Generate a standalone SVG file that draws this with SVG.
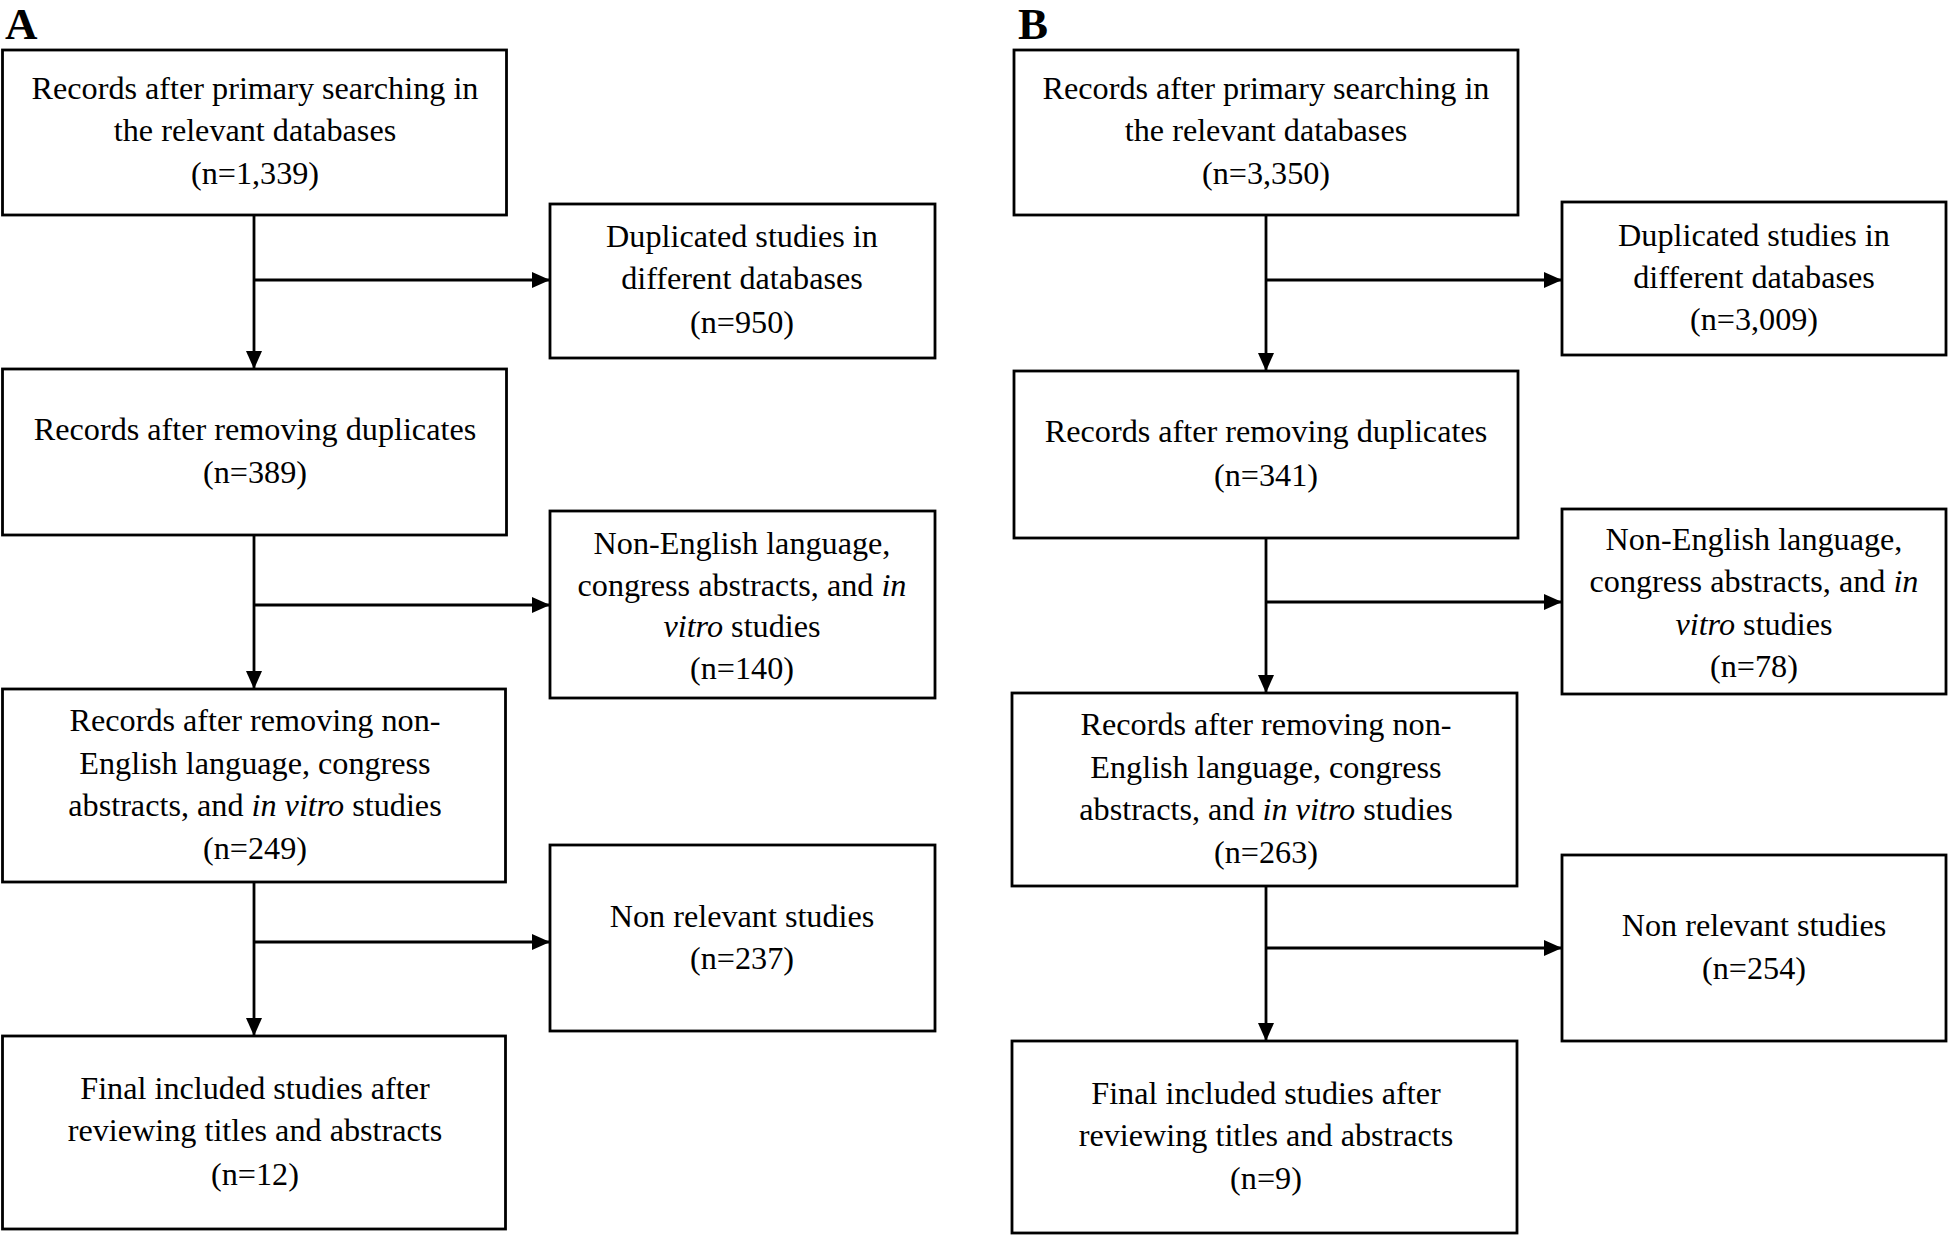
<svg xmlns="http://www.w3.org/2000/svg" width="1948" height="1235" viewBox="0 0 1948 1235">
<style>
.box{fill:#fff;stroke:#000;stroke-width:2.8}
.t{font-family:"Liberation Serif","Times New Roman",serif;font-size:32.2px;fill:#000;text-anchor:middle}
.lbl{font-family:"Liberation Serif","Times New Roman",serif;font-size:45px;font-weight:bold;fill:#000}
.c{stroke:#000;stroke-width:2.8;fill:none;marker-end:url(#ah)}
.i{font-style:italic}
</style>
<defs>
<marker id="ah" markerUnits="userSpaceOnUse" markerWidth="20" markerHeight="16" refX="18" refY="8" orient="auto">
<path d="M0,0 L18,8 L0,16 Z" fill="#000"/>
</marker>
</defs>
<rect width="1948" height="1235" fill="#fff"/>
<text class="lbl" x="5" y="39">A</text>
<text class="lbl" x="1018" y="39">B</text>

<g id="connectors">
<path class="c" d="M254,215 V369"/>
<path class="c" d="M254,280 H550"/>
<path class="c" d="M254,535 V689"/>
<path class="c" d="M254,605 H550"/>
<path class="c" d="M254,882 V1036"/>
<path class="c" d="M254,942 H550"/>
<path class="c" d="M1266,215 V371"/>
<path class="c" d="M1266,280 H1562"/>
<path class="c" d="M1266,538 V693"/>
<path class="c" d="M1266,602 H1562"/>
<path class="c" d="M1266,886 V1041"/>
<path class="c" d="M1266,948 H1562"/>
</g>

<g id="a1"><rect class="box" x="2.5" y="50" width="504" height="165"/>
<text class="t" x="255" y="99">Records after primary searching in</text>
<text class="t" x="255" y="141">the relevant databases</text>
<text class="t" x="255" y="184">(n=1,339)</text></g>

<g id="a2"><rect class="box" x="550" y="204" width="385" height="154"/>
<text class="t" x="742" y="247">Duplicated studies in</text>
<text class="t" x="742" y="289">different databases</text>
<text class="t" x="742" y="333">(n=950)</text></g>

<g id="a3"><rect class="box" x="2.5" y="369" width="504" height="166"/>
<text class="t" x="255" y="440">Records after removing duplicates</text>
<text class="t" x="255" y="483">(n=389)</text></g>

<g id="a4"><rect class="box" x="550" y="511" width="385" height="187"/>
<text class="t" x="742" y="554">Non-English language,</text>
<text class="t" x="742" y="596">congress abstracts, and <tspan class="i">in</tspan></text>
<text class="t" x="742" y="637"><tspan class="i">vitro</tspan> studies</text>
<text class="t" x="742" y="679">(n=140)</text></g>

<g id="a5"><rect class="box" x="2.5" y="689" width="503" height="193"/>
<text class="t" x="255" y="731">Records after removing non-</text>
<text class="t" x="255" y="774">English language, congress</text>
<text class="t" x="255" y="816">abstracts, and <tspan class="i">in vitro</tspan> studies</text>
<text class="t" x="255" y="859">(n=249)</text></g>

<g id="a6"><rect class="box" x="550" y="845" width="385" height="186"/>
<text class="t" x="742" y="927">Non relevant studies</text>
<text class="t" x="742" y="969">(n=237)</text></g>

<g id="a7"><rect class="box" x="2.5" y="1036" width="503" height="193"/>
<text class="t" x="255" y="1099">Final included studies after</text>
<text class="t" x="255" y="1141">reviewing titles and abstracts</text>
<text class="t" x="255" y="1185">(n=12)</text></g>

<g id="b1"><rect class="box" x="1014" y="50" width="504" height="165"/>
<text class="t" x="1266" y="99">Records after primary searching in</text>
<text class="t" x="1266" y="141">the relevant databases</text>
<text class="t" x="1266" y="184">(n=3,350)</text></g>

<g id="b2"><rect class="box" x="1562" y="202" width="384" height="153"/>
<text class="t" x="1754" y="246">Duplicated studies in</text>
<text class="t" x="1754" y="288">different databases</text>
<text class="t" x="1754" y="330">(n=3,009)</text></g>

<g id="b3"><rect class="box" x="1014" y="371" width="504" height="167"/>
<text class="t" x="1266" y="442">Records after removing duplicates</text>
<text class="t" x="1266" y="486">(n=341)</text></g>

<g id="b4"><rect class="box" x="1562" y="509" width="384" height="185"/>
<text class="t" x="1754" y="550">Non-English language,</text>
<text class="t" x="1754" y="592">congress abstracts, and <tspan class="i">in</tspan></text>
<text class="t" x="1754" y="635"><tspan class="i">vitro</tspan> studies</text>
<text class="t" x="1754" y="677">(n=78)</text></g>

<g id="b5"><rect class="box" x="1012" y="693" width="505" height="193"/>
<text class="t" x="1266" y="735">Records after removing non-</text>
<text class="t" x="1266" y="778">English language, congress</text>
<text class="t" x="1266" y="820">abstracts, and <tspan class="i">in vitro</tspan> studies</text>
<text class="t" x="1266" y="863">(n=263)</text></g>

<g id="b6"><rect class="box" x="1562" y="855" width="384" height="186"/>
<text class="t" x="1754" y="936">Non relevant studies</text>
<text class="t" x="1754" y="979">(n=254)</text></g>

<g id="b7"><rect class="box" x="1012" y="1041" width="505" height="192"/>
<text class="t" x="1266" y="1104">Final included studies after</text>
<text class="t" x="1266" y="1146">reviewing titles and abstracts</text>
<text class="t" x="1266" y="1189">(n=9)</text></g>
</svg>
